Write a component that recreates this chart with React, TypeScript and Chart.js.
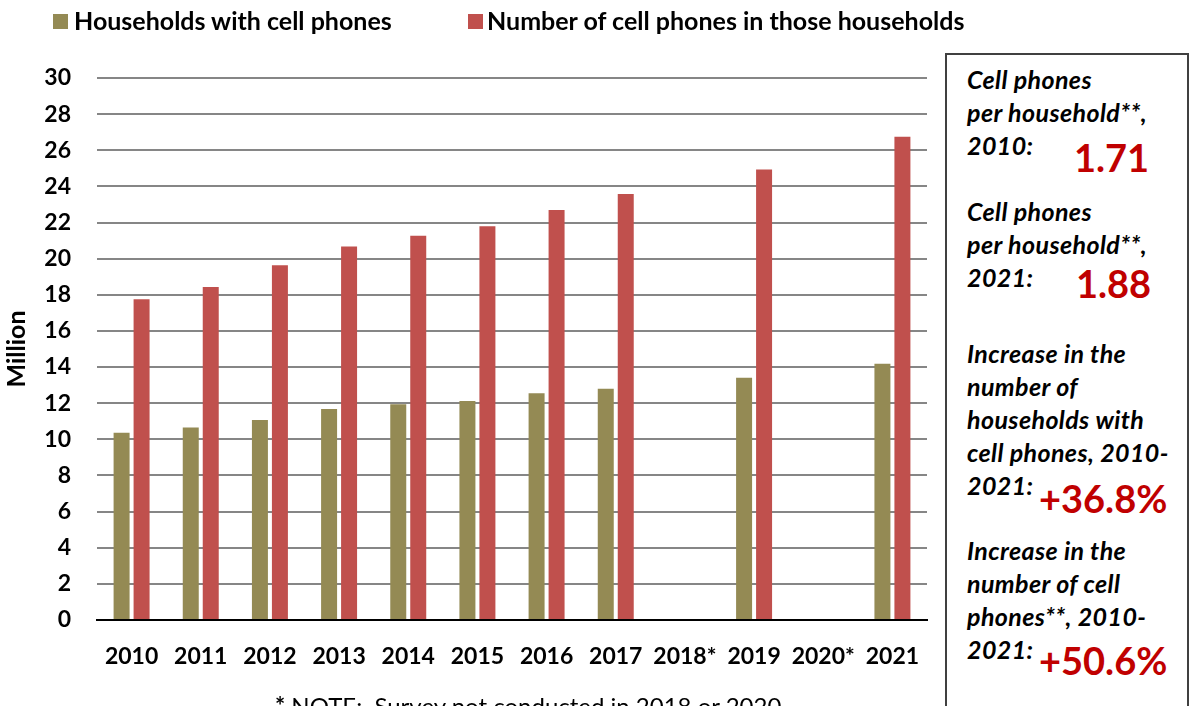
import React, { useEffect, useRef } from "react";
import { Chart, registerables } from "chart.js";

Chart.register(...registerables);

const years = ["2010", "2011", "2012", "2013", "2014", "2015", "2016", "2017", "2018*", "2019", "2020*", "2021"];
const householdsWithPhones = [10.37, 10.66, 11.07, 11.68, 11.94, 12.12, 12.55, 12.8, null, 13.41, null, 14.18];
const phonesInHouseholds = [17.75, 18.43, 19.63, 20.68, 21.27, 21.79, 22.69, 23.58, null, 24.94, null, 26.75];
const seriesNames = ["Households with cell phones", "Number of cell phones in those households"];
const seriesColors = ["#948A54", "#C0504D"];
const yAxisTitle = "Million";
const noteText = "NOTE:  Survey not conducted in 2018 or 2020";

const panelLabels = [
  ["Cell phones", "per household**,", "2010:"],
  ["Cell phones", "per household**,", "2021:"],
  ["Increase in the", "number of", "households with", "cell phones, 2010-", "2021:"],
  ["Increase in the", "number of cell", "phones**, 2010-", "2021:"],
];
const panelValues = ["1.71", "1.88", "+36.8%", "+50.6%"];

const FONT = "Lato, 'Open Sans', sans-serif";

export default function App() {
  const ref = useRef<HTMLCanvasElement | null>(null);

  useEffect(() => {
    if (!ref.current) return;
    const chart = new Chart(ref.current, {
      type: "bar",
      data: {
        labels: years,
        datasets: [
          {
            label: seriesNames[0],
            data: householdsWithPhones,
            backgroundColor: seriesColors[0],
            categoryPercentage: 0.578,
            barPercentage: 0.8,
          },
          {
            label: seriesNames[1],
            data: phonesInHouseholds,
            backgroundColor: seriesColors[1],
            categoryPercentage: 0.578,
            barPercentage: 0.8,
          },
        ],
      },
      options: {
        responsive: false,
        animation: false,
        devicePixelRatio: 1,
        layout: { padding: { top: 78, left: 0, right: 18, bottom: 0 } },
        plugins: {
          legend: { display: false },
          tooltip: { enabled: false },
        },
        scales: {
          x: {
            grid: { display: false },
            border: { display: true, color: "#000000", width: 2 },
            ticks: {
              color: "#000000",
              font: { family: FONT, size: 23, weight: "bold" },
              padding: 15,
              maxRotation: 0,
              autoSkip: false,
            },
            afterFit: (s: any) => {
              s.height = 86;
            },
          },
          y: {
            min: 0,
            max: 30,
            grid: { color: "#868686", lineWidth: 2, drawTicks: false },
            border: { display: false },
            ticks: {
              stepSize: 2,
              color: "#000000",
              font: { family: FONT, size: 23, weight: "bold" },
              padding: 26,
            },
            title: {
              display: true,
              text: yAxisTitle,
              color: "#000000",
              font: { family: FONT, size: 25, weight: "bold" },
              padding: { top: 2, bottom: 0 },
            },
            afterFit: (s: any) => {
              s.width = 97;
            },
          },
        },
      },
    });
    return () => chart.destroy();
  }, []);

  const legendText: React.CSSProperties = {
    position: "absolute",
    top: 8,
    fontFamily: FONT,
    fontWeight: "bold",
    fontSize: 25,
    lineHeight: "25px",
    whiteSpace: "nowrap",
    color: "#000",
  };

  const blockTops = [63, 195, 337, 534];
  const valuePos = [
    { left: 1074, top: 138 },
    { left: 1076, top: 264 },
    { left: 1039, top: 479 },
    { left: 1039, top: 641 },
  ];

  return (
    <div
      style={{
        position: "absolute",
        left: 0,
        top: 0,
        width: 1189,
        height: 706,
        overflow: "hidden",
        background: "#fff",
        fontFamily: FONT,
      }}
    >
      <canvas ref={ref} width={945} height={706} style={{ position: "absolute", left: 0, top: 0 }} />
      {/* legend */}
      <div style={{ position: "absolute", left: 53, top: 14, width: 15, height: 15, background: seriesColors[0] }} />
      <div style={{ ...legendText, left: 74 }}>{seriesNames[0]}</div>
      <div style={{ position: "absolute", left: 468, top: 14, width: 15, height: 15, background: seriesColors[1] }} />
      <div style={{ ...legendText, left: 487 }}>{seriesNames[1]}</div>
      {/* note */}
      <div
        style={{
          position: "absolute",
          left: 275,
          top: 694,
          fontSize: 24,
          lineHeight: "24px",
          whiteSpace: "pre",
          color: "#000",
        }}
      >
        <b>*</b> {noteText}
      </div>
      {/* right panel */}
      <div
        style={{
          position: "absolute",
          left: 945,
          top: 53,
          width: 240,
          height: 700,
          border: "2px solid #404040",
          background: "#fff",
        }}
      />
      {panelLabels.map((lines, i) => (
        <div
          key={"b" + i}
          style={{
            position: "absolute",
            left: 967,
            top: blockTops[i],
            fontSize: 25,
            lineHeight: "33px",
            letterSpacing: "0.4px",
            fontWeight: "bold",
            fontStyle: "italic",
            color: "#000",
            whiteSpace: "nowrap",
          }}
        >
          {lines.map((l, j) => (
            <div key={j}>{l}</div>
          ))}
        </div>
      ))}
      {panelValues.map((v, i) => (
        <div
          key={"v" + i}
          style={{
            position: "absolute",
            left: valuePos[i].left,
            top: valuePos[i].top,
            fontSize: 38,
            lineHeight: "38px",
            fontWeight: "bold",
            color: "#C00000",
            whiteSpace: "nowrap",
          }}
        >
          {v}
        </div>
      ))}
    </div>
  );
}
